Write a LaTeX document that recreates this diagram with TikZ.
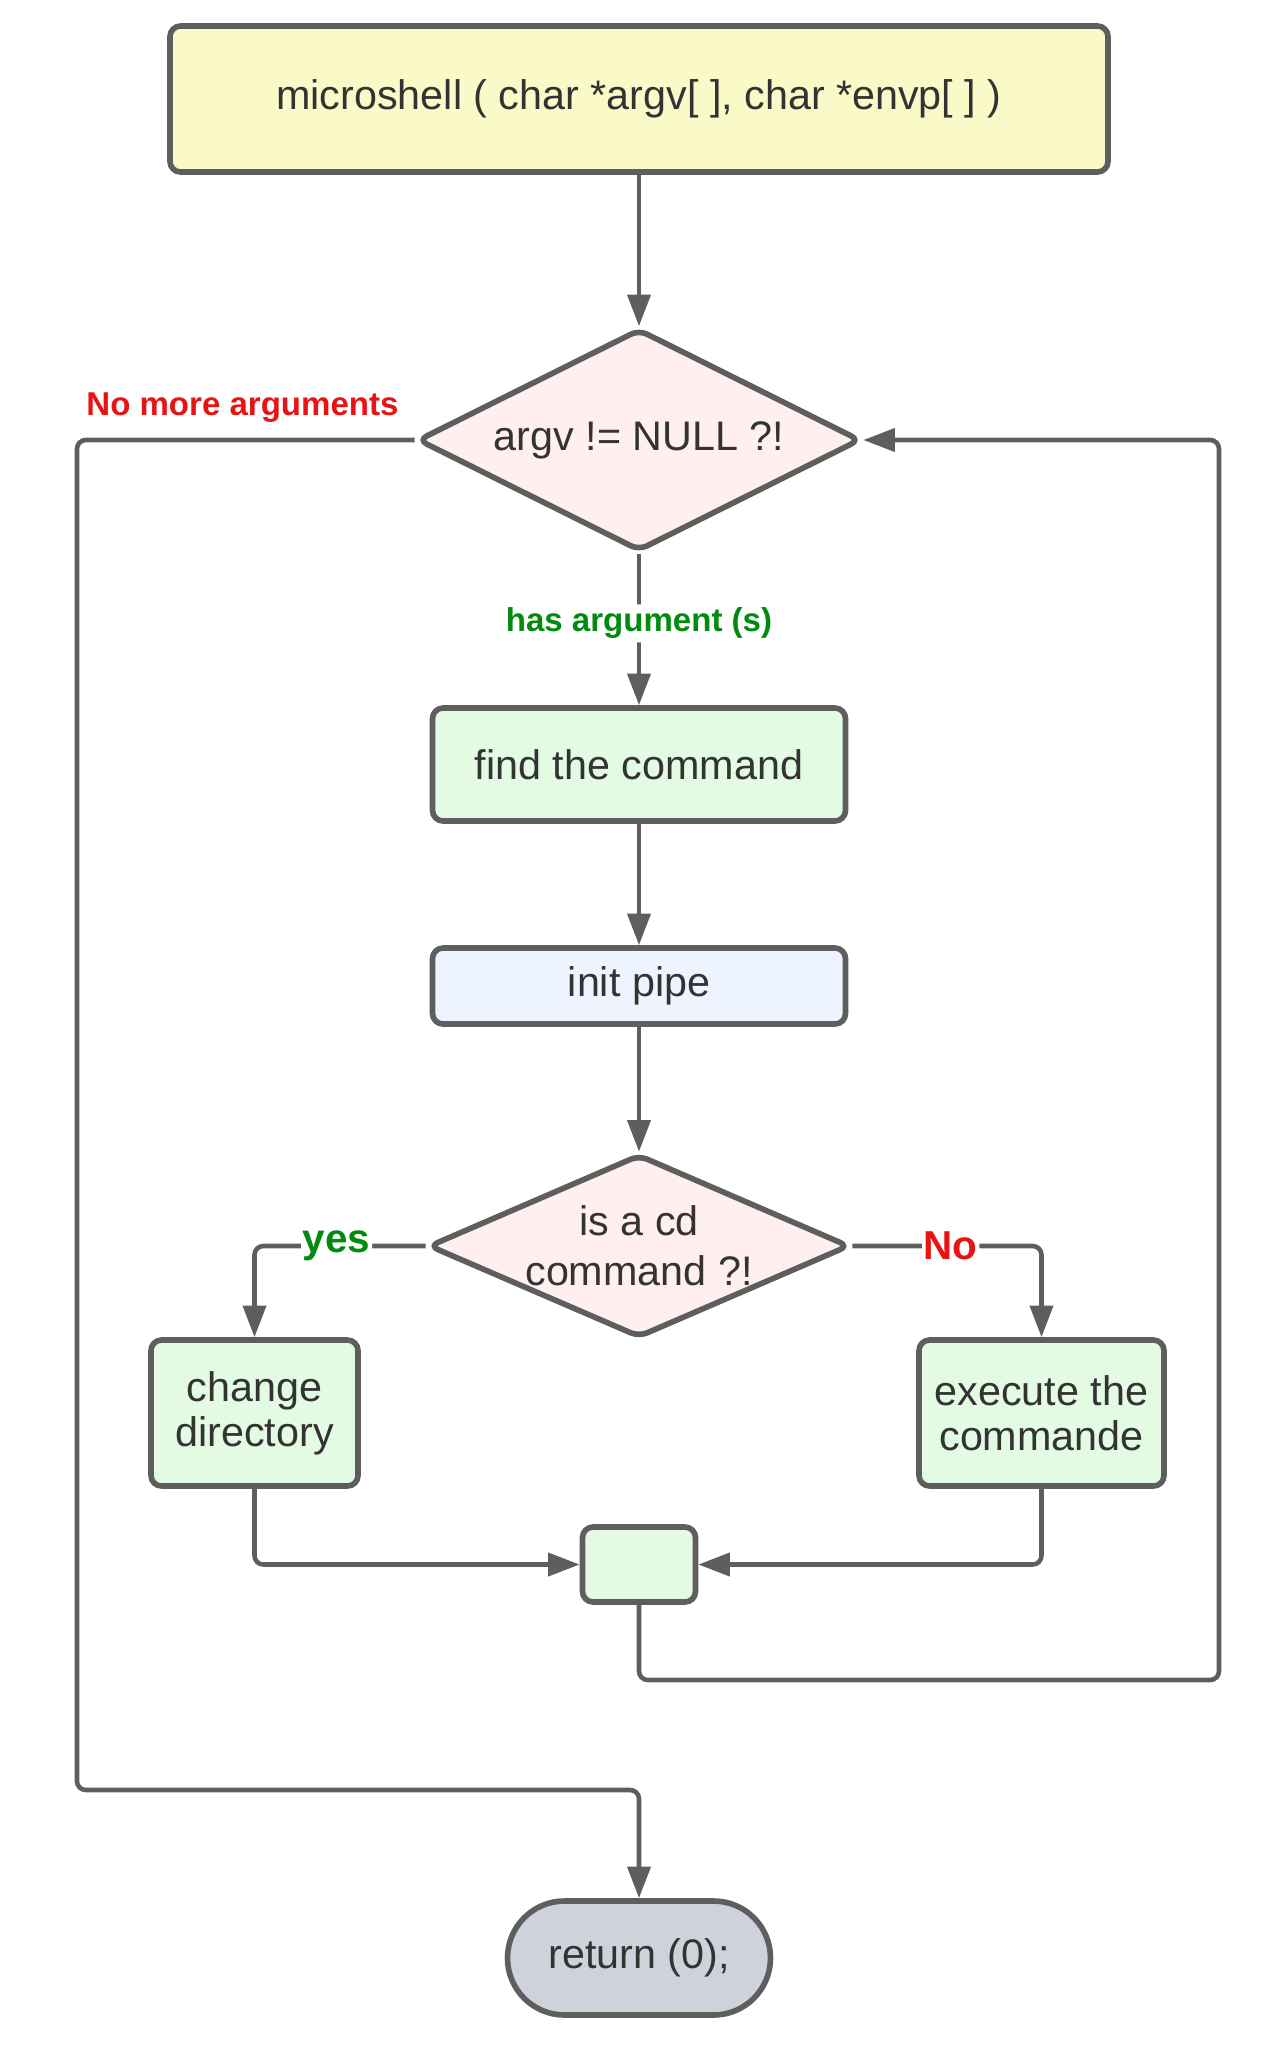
\documentclass[tikz,border=0pt]{standalone}
\usepackage{fontspec}
\setmainfont{Liberation Sans}
\usetikzlibrary{arrows.meta, positioning, shapes.geometric, calc}
\definecolor{lineGray}{HTML}{5E5E5E}
\definecolor{textGray}{HTML}{333333}
\definecolor{startYellow}{HTML}{FAFAC8}
\definecolor{decPink}{HTML}{FFF0EF}
\definecolor{stepGreen}{HTML}{E3FAE3}
\definecolor{pipeBlue}{HTML}{EDF4FF}
\definecolor{endGray}{HTML}{CED3DB}
\definecolor{yesGreen}{HTML}{008A0E}
\definecolor{noRed}{HTML}{E81313}

\begin{document}
\begin{tikzpicture}[
  procnode/.style={draw=lineGray, line width=3.2pt, rounded corners=6pt, fill=stepGreen, align=center, text=textGray, font=\fontsize{23.5}{25.5}\selectfont, inner sep=0pt},
  decnode/.style={diamond, aspect=2, draw=lineGray, line width=3.2pt, rounded corners=5pt, fill=decPink, align=center, text=textGray, font=\fontsize{23.5}{28.3}\selectfont, inner sep=-0.4cm},
  arrow/.style={-{Triangle[length=18pt, width=13pt]}, line width=2.6pt, draw=lineGray, rounded corners=5pt},
  lbl/.style={font=\fontsize{18.8}{22}\selectfont\bfseries},
  branchlbl/.style={font=\fontsize{23}{26}\selectfont\bfseries, fill=white, inner sep=1pt}
]
\useasboundingbox (0,0) rectangle (25.62,-41.12);

\node[procnode, fill=startYellow, minimum width=18.76cm, minimum height=2.92cm] (shell) at (12.78,-1.98) {microshell ( char *argv[ ], char *envp[ ] )};
\node[decnode, minimum width=8.86cm, minimum height=4.44cm] (argv) at (12.78,-8.80) {argv != NULL ?!};
\node[procnode, minimum width=8.26cm, minimum height=2.26cm] (find) at (12.78,-15.29) {find the command};
\node[procnode, fill=pipeBlue, minimum width=8.26cm, minimum height=1.52cm] (pipe) at (12.78,-19.72) {init pipe};
\node[decnode, minimum width=8.42cm, minimum height=3.66cm] (iscd) at (12.78,-24.92) {is a cd\\command ?!};
\node[procnode, minimum width=4.14cm, minimum height=2.92cm] (chdir) at (5.09,-28.26) {change\\directory};
\node[procnode, minimum width=4.9cm, minimum height=2.92cm] (exec) at (20.83,-28.26) {execute the\\commande};
\node[procnode, minimum width=2.26cm, minimum height=1.5cm] (join) at (12.78,-31.29) {};
\node[procnode, fill=endGray, rounded corners=1.14cm, minimum width=5.26cm, minimum height=2.28cm] (ret) at (12.78,-39.16) {return (0);};

\coordinate (rloop) at (24.38,-33.60);
\coordinate (lloop) at (1.54,-35.80);

\draw[arrow] (shell) -- (argv);
\draw[arrow] (argv) -- node[lbl, text=yesGreen, fill=white, pos=0.46, inner sep=2pt] {has argument (s)} (find);
\draw[arrow] (find) -- (pipe);
\draw[arrow] (pipe) -- (iscd);
\draw[arrow] (iscd.west) -| node[branchlbl, text=yesGreen, pos=0.26] {yes} (chdir.north);
\draw[arrow] (iscd.east) -| node[branchlbl, text=noRed, pos=0.26] {No} (exec.north);
\draw[arrow] (chdir.south) |- (join.west);
\draw[arrow] (exec.south) |- (join.east);
\draw[arrow] (join.south) |- (rloop) |- (argv.east);
\draw[arrow] (argv.west) -| node[lbl, text=noRed, pos=0.255, yshift=0.64cm] {No more arguments} (lloop) -| (ret.north);
\end{tikzpicture}
\end{document}
